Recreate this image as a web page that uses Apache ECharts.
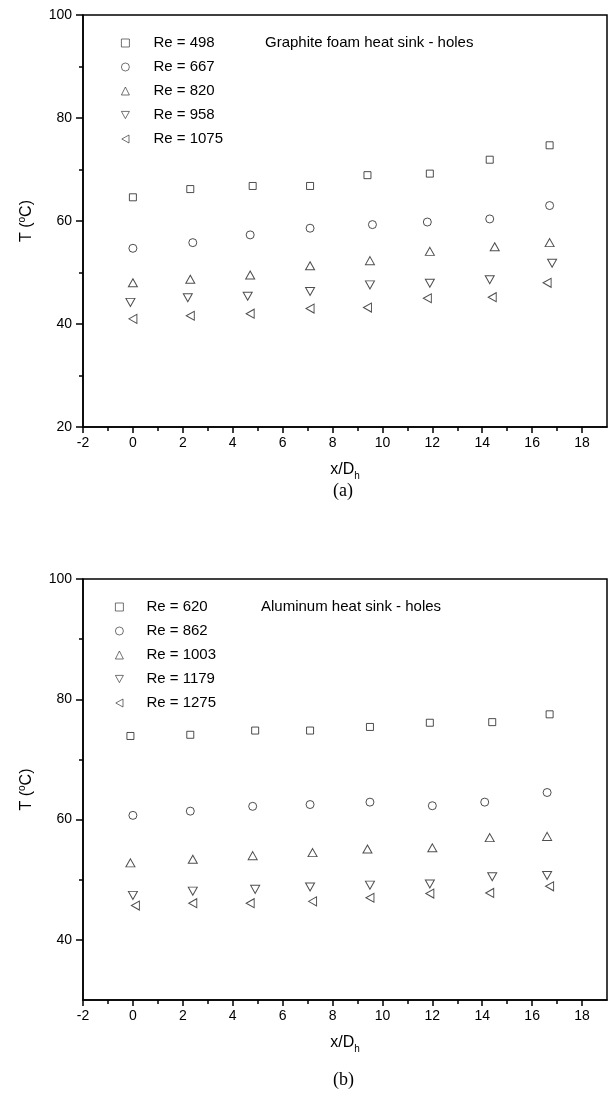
<!DOCTYPE html>
<html><head><meta charset="utf-8">
<script src="https://cdn.jsdelivr.net/npm/echarts@6/dist/echarts.min.js"></script>
<style>html,body{margin:0;padding:0;background:#fff}#c{width:610px;height:1100px}</style>
</head><body><div id="c"></div>
<script>
// ---------- tick labels ----------
const xMajorTicks = [-2, 0, 2, 4, 6, 8, 10, 12, 14, 16, 18];
const xMinorTicks = [-1, 1, 3, 5, 7, 9, 11, 13, 15, 17];
const yMajorTicksA = [20, 40, 60, 80, 100];
const yMinorTicksA = [30, 50, 70, 90];
const yMajorTicksB = [40, 60, 80, 100];
const yMinorTicksB = [50, 70, 90];

// ---------- panel (a): graphite foam ----------
const namesA = ['Re = 498', 'Re = 667', 'Re = 820', 'Re = 958', 'Re = 1075'];
const xA498  = [0, 2.3, 4.8, 7.1, 9.4, 11.9, 14.3, 16.7];
const tA498  = [64.6, 66.2, 66.8, 66.8, 68.9, 69.2, 71.9, 74.7];
const xA667  = [0, 2.4, 4.7, 7.1, 9.6, 11.8, 14.3, 16.7];
const tA667  = [54.7, 55.8, 57.3, 58.6, 59.3, 59.8, 60.4, 63.0];
const xA820  = [0, 2.3, 4.7, 7.1, 9.5, 11.9, 14.5, 16.7];
const tA820  = [48.0, 48.7, 49.5, 51.3, 52.3, 54.1, 55.0, 55.8];
const xA958  = [-0.1, 2.2, 4.6, 7.1, 9.5, 11.9, 14.3, 16.8];
const tA958  = [44.2, 45.1, 45.4, 46.3, 47.6, 47.9, 48.6, 51.8];
const xA1075 = [0, 2.3, 4.7, 7.1, 9.4, 11.8, 14.4, 16.6];
const tA1075 = [41.0, 41.6, 42.0, 43.0, 43.2, 45.0, 45.2, 48.0];

// ---------- panel (b): aluminum ----------
const namesB = ['Re = 620', 'Re = 862', 'Re = 1003', 'Re = 1179', 'Re = 1275'];
const xB620  = [-0.1, 2.3, 4.9, 7.1, 9.5, 11.9, 14.4, 16.7];
const tB620  = [73.9, 74.1, 74.8, 74.8, 75.4, 76.1, 76.2, 77.5];
const xB862  = [0, 2.3, 4.8, 7.1, 9.5, 12.0, 14.1, 16.6];
const tB862  = [60.7, 61.4, 62.2, 62.5, 62.9, 62.3, 62.9, 64.5];
const xB1003 = [-0.1, 2.4, 4.8, 7.2, 9.4, 12.0, 14.3, 16.6];
const tB1003 = [52.8, 53.4, 54.0, 54.5, 55.1, 55.3, 57.0, 57.2];
const xB1179 = [0, 2.4, 4.9, 7.1, 9.5, 11.9, 14.4, 16.6];
const tB1179 = [47.4, 48.1, 48.4, 48.8, 49.1, 49.3, 50.5, 50.7];
const xB1275 = [0.1, 2.4, 4.7, 7.2, 9.5, 11.9, 14.3, 16.7];
const tB1275 = [45.7, 46.1, 46.1, 46.4, 47.0, 47.7, 47.8, 48.9];

const titleA = 'Graphite foam heat sink - holes';
const titleB = 'Aluminum heat sink - holes';

// ---------- styling ----------
const FONT = '"Liberation Sans", Arial, sans-serif';
const SERIF = '"Liberation Serif", "Times New Roman", serif';
const symbols = [
  {symbol: 'rect', size: 7},
  {symbol: 'circle', size: 8},
  {symbol: 'triangle', size: [9, 8]},
  {symbol: 'path://M0,0L10,0L5,9Z', size: [9, 8]},
  {symbol: 'path://M0,5L9,0L9,10Z', size: [8, 9]}
];
const zip = (xs, ys) => xs.map((x, i) => [x, ys[i]]);

function makeSeries(names, pairs, xi, yi) {
  return names.map((n, k) => ({
    type: 'scatter', name: n, xAxisIndex: xi, yAxisIndex: yi,
    data: zip(pairs[k][0], pairs[k][1]),
    symbol: symbols[k].symbol, symbolSize: symbols[k].size,
    itemStyle: {color: 'rgba(255,255,255,0)', borderColor: '#222', borderWidth: 1},
    emphasis: {disabled: true}, animation: false
  }));
}

const axisLineStyle = {color: '#000', width: 1.5};
function xAxes(grid) {
  return [
    {gridIndex: grid, type: 'value', position: 'bottom', min: -2, max: 19, interval: 1,
     axisLine: {show: true, onZero: false, lineStyle: axisLineStyle},
     axisTick: {show: true, customValues: xMajorTicks, length: 6, lineStyle: {color: '#000', width: 1.5}},
     axisLabel: {customValues: xMajorTicks, fontSize: 14, color: '#000', fontFamily: FONT, margin: 9},
     splitLine: {show: false},
     name: 'x/D{s|h}', nameLocation: 'middle', nameGap: 32,
     nameTextStyle: {fontSize: 16, color: '#000', fontFamily: FONT,
       rich: {s: {fontSize: 10, color: '#000', fontFamily: FONT, padding: [12, 0, 0, 0]}}}},
    {gridIndex: grid, type: 'value', position: 'bottom', min: -2, max: 19, interval: 1,
     axisLine: {show: false, onZero: false},
     axisTick: {show: true, customValues: xMinorTicks, length: 4, lineStyle: {color: '#000', width: 1.5}},
     axisLabel: {show: false}, splitLine: {show: false}}
  ];
}
function yAxes(grid, min, major, minor) {
  return [
    {gridIndex: grid, type: 'value', position: 'left', min: min, max: 100, interval: 10,
     axisLine: {show: true, onZero: false, lineStyle: axisLineStyle},
     axisTick: {show: true, customValues: major, length: 7, lineStyle: {color: '#000', width: 1.5}},
     axisLabel: {customValues: major, fontSize: 14, color: '#000', fontFamily: FONT, margin: 11},
     splitLine: {show: false},
     name: 'T ({o|o}C)', nameLocation: 'middle', nameRotate: 90, nameGap: 47,
     nameTextStyle: {fontSize: 16, color: '#000', fontFamily: FONT,
       rich: {o: {fontSize: 10, color: '#000', fontFamily: FONT, padding: [0, 0, 9, 0]}}}},
    {gridIndex: grid, type: 'value', position: 'left', min: min, max: 100, interval: 10,
     axisLine: {show: false, onZero: false},
     axisTick: {show: true, customValues: minor, length: 4, lineStyle: {color: '#000', width: 1.5}},
     axisLabel: {show: false}, splitLine: {show: false}}
  ];
}

const legendBase = {
  orient: 'vertical', itemWidth: 8, itemHeight: 8, itemGap: 0,
  selectedMode: false,
  itemStyle: {color: 'rgba(255,255,255,0)', borderColor: '#222', borderWidth: 0.8}
};

const option = {
  animation: false,
  backgroundColor: '#fff',
  grid: [
    {left: 83, top: 15, right: 3, height: 412, show: true, borderColor: '#000', borderWidth: 1.5, backgroundColor: 'transparent'},
    {left: 83, top: 579, right: 3, height: 421, show: true, borderColor: '#000', borderWidth: 1.5, backgroundColor: 'transparent'}
  ],
  xAxis: [...xAxes(0), ...xAxes(1)],
  yAxis: [...yAxes(0, 20, yMajorTicksA, yMinorTicksA), ...yAxes(1, 30, yMajorTicksB, yMinorTicksB)],
  legend: [
    Object.assign({}, legendBase, {data: namesA, left: 116, top: 26,
      textStyle: {fontSize: 15, color: '#000', fontFamily: FONT, lineHeight: 24, padding: [0, 0, 0, 19]}}),
    Object.assign({}, legendBase, {data: namesB, left: 110, top: 590,
      textStyle: {fontSize: 15, color: '#000', fontFamily: FONT, lineHeight: 24, padding: [0, 0, 0, 18]}})
  ],
  title: [
    {text: titleA, left: 260, top: 30, textStyle: {fontSize: 15, fontWeight: 'normal', color: '#000', fontFamily: FONT}},
    {text: titleB, left: 256, top: 594, textStyle: {fontSize: 15, fontWeight: 'normal', color: '#000', fontFamily: FONT}}
  ],
  graphic: [
    {type: 'text', left: 333, top: 482, style: {text: '(a)', fontSize: 18, fill: '#000', fontFamily: SERIF}},
    {type: 'text', left: 333, top: 1071, style: {text: '(b)', fontSize: 18, fill: '#000', fontFamily: SERIF}}
  ],
  series: [
    ...makeSeries(namesA, [[xA498, tA498], [xA667, tA667], [xA820, tA820], [xA958, tA958], [xA1075, tA1075]], 0, 0),
    ...makeSeries(namesB, [[xB620, tB620], [xB862, tB862], [xB1003, tB1003], [xB1179, tB1179], [xB1275, tB1275]], 2, 2)
  ]
};

const chart = echarts.init(document.getElementById('c'), null, {renderer: 'canvas'});
chart.setOption(option);
</script>
</body></html>
